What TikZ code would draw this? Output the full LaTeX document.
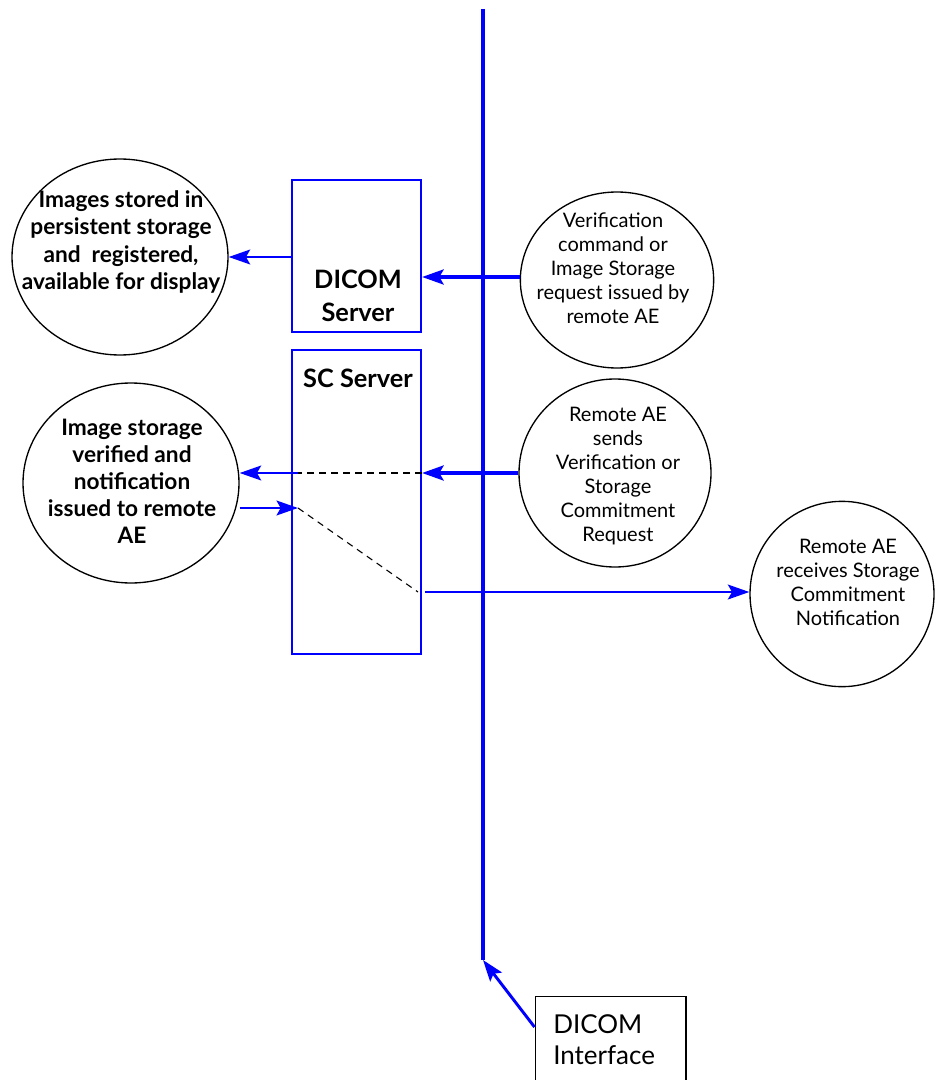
\documentclass[tikz,border=0pt]{standalone}
\usepackage{fontspec}
\setmainfont{Lato}
\usetikzlibrary{arrows.meta}
\definecolor{busblue}{RGB}{0,0,255}
\tikzset{
  bubble/.style={draw=black, line width=1pt, ellipse, inner sep=0pt},
  srvbox/.style={draw=busblue, line width=1.5pt, rectangle, inner sep=0pt},
  boldtxt/.style={align=center, inner sep=0pt, font=\bfseries\fontsize{17}{20.3}\selectfont},
  plaintxt/.style={align=center, inner sep=0pt, font=\fontsize{15}{18}\selectfont},
  boxtxt/.style={align=center, inner sep=0pt, font=\bfseries\fontsize{19}{25}\selectfont},
  flow/.style={draw=busblue, line width=2.2pt, -{Stealth[length=16pt,width=11pt,inset=3pt]}},
  flowthick/.style={draw=busblue, line width=3.5pt, -{Stealth[length=16pt,width=11pt,inset=3pt]}},
  link/.style={draw=black, line width=0.8pt, dash pattern=on 5pt off 4pt},
}
\usetikzlibrary{shapes.geometric}
\begin{document}
\begin{tikzpicture}[x=0.75pt,y=-0.75pt]
\useasboundingbox (0,0) rectangle (934,1080);

% network bus
\coordinate (bustop) at (483,9);
\coordinate (busbot) at (483,960);
\draw[busblue, line width=3.6pt] (bustop) -- (busbot);

% servers
\node[srvbox, minimum width=96.75pt, minimum height=114pt] (dicomsrv) at (356.5,256) {};
\node[boxtxt] (dicomsrvtxt) at (358,296) {DICOM\\Server};
\node[srvbox, minimum width=96.75pt, minimum height=228pt] (scsrv) at (356.5,502) {};
\node[boxtxt] (scsrvtxt) at (358,378) {SC Server};

% local activities
\node[bubble, minimum width=162pt, minimum height=147pt] (stored) at (120,257) {};
\node[boldtxt] (storedtxt) at (121,242) {Images stored in\\persistent storage\\and\ \ registered,\\available for display};
\node[bubble, minimum width=162pt, minimum height=150pt] (verified) at (131,483) {};
\node[boldtxt] (verifiedtxt) at (132,481) {Image storage\\verified and\\notification\\issued to remote\\AE};

% remote activities
\node[bubble, minimum width=145pt, minimum height=132pt] (verreq) at (617,280) {};
\node[plaintxt] (verreqtxt) at (613,268) {Verification\\command or\\Image Storage\\request issued by\\remote AE};
\node[bubble, minimum width=144pt, minimum height=141pt] (commitreq) at (615,473) {};
\node[plaintxt] (commitreqtxt) at (618,476) {Remote AE\\sends\\Verification or\\Storage\\Commitment\\Request};
\node[bubble, minimum width=138pt, minimum height=139pt] (commitntf) at (842,594) {};
\node[plaintxt] (commitntftxt) at (848,582) {Remote AE\\receives Storage\\Commitment\\Notification};

% interface label
\node[draw=black, line width=1pt, minimum width=113pt, minimum height=80pt, inner sep=0pt] (iface) at (610.5,1050) {};
\node[align=left, anchor=west, inner sep=0pt, font=\fontsize{19.5}{23}\selectfont] (ifacetxt) at (553,1040) {DICOM\\Interface};
\draw[flow] (iface.west |- 533,1027) -- (busbot);

% storage request into DICOM server
\draw[flowthick] (verreq.west |- 0,277) -- (dicomsrv.east |- 0,277);
\draw[flow] (dicomsrv.west |- 0,257) -- (stored.east |- 0,257);

% storage commitment
\draw[flowthick] (commitreq.west |- 0,473) -- (scsrv.east |- 0,473);
\coordinate (sc1) at (298,473);
\draw[link] (scsrv.east |- 0,473) -- (sc1);
\draw[flow] (sc1) -- (verified.east |- 0,473);
\coordinate (sc2) at (298,508);
\draw[flow] (verified.east |- 0,508) -- (sc2);
\coordinate (sc3) at (418,592);
\draw[link] (sc2) -- (sc3);
\draw[flow] (425,592) -- (commitntf.west |- 0,592);
\end{tikzpicture}
\end{document}
